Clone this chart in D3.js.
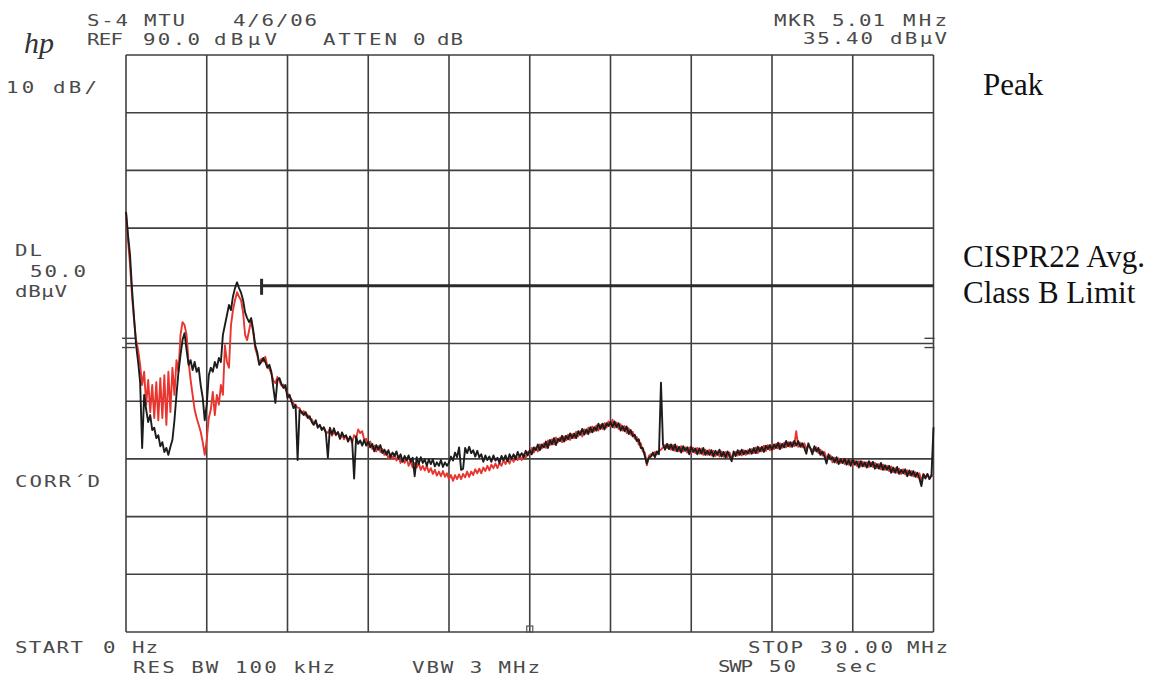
<!DOCTYPE html>
<html>
<head>
<meta charset="utf-8">
<script src="https://cdn.jsdelivr.net/npm/d3@7"></script>
<style>
  html, body { margin: 0; padding: 0; background: #fff; }
  svg { display: block; }
  .plotter { font-family: "DejaVu Sans Mono", monospace; font-size: 16px; fill: #4a4a4a; }
  .note { font-family: "Liberation Serif", "Times New Roman", serif; font-size: 31px; fill: #111; }
  .logo { font-family: "Liberation Serif", serif; font-style: italic; font-size: 30px; fill: #333; }
</style>
</head>
<body>
<svg id="chart" width="1173" height="687"></svg>
<script>
// Analyzer settings
const startMHz = 0;
const stopMHz = 30;
const refLevelDb = 90;
const dbPerDiv = 10;
const verticalDivs = 10;
const horizontalDivs = 10;

// Conducted emission sweeps, 401 points each, dBµV
const sweepBlack = [
  62.8,58.8,55.3,49.3,44.4,39.7,36.8,33.3,21.9,31.1,
  28.5,26.4,27.6,25.0,25.4,23.6,24.1,22.2,22.9,21.2,
  21.9,20.7,22.1,23.3,26.7,31.1,35.1,38.0,40.6,41.8,
  38.9,36.3,37.1,35.4,36.8,35.1,35.8,32.8,30.6,26.7,
  29.4,34.5,35.8,35.1,36.8,35.8,37.5,36.8,41.5,43.2,
  44.9,46.7,45.8,48.2,49.6,50.6,49.6,48.8,47.5,45.4,
  44.4,43.7,44.4,42.3,39.7,38.5,36.3,36.8,37.5,36.8,
  35.8,36.3,35.1,32.3,29.7,33.7,34.0,33.0,32.3,32.8,
  30.6,31.1,29.9,28.8,29.4,19.8,28.5,28.1,27.6,28.1,
  27.1,27.4,26.4,25.9,26.7,25.4,25.9,25.0,25.5,24.5,
  20.2,25.4,24.3,25.3,24.2,24.6,23.5,24.6,23.8,24.1,
  23.0,23.9,23.2,16.6,23.9,22.6,23.2,22.3,23.3,22.3,
  23.0,22.0,22.6,21.3,22.4,21.6,22.4,21.0,21.6,20.7,
  21.5,20.3,21.1,20.5,21.3,20.0,20.8,19.5,20.5,19.8,
  20.6,19.5,20.2,17.0,20.3,19.1,20.3,19.3,19.9,18.8,
  19.9,19.1,19.9,18.7,19.4,18.8,19.8,18.6,19.4,18.8,
  19.4,20.4,19.7,21.1,20.3,22.0,18.1,18.3,21.9,21.0,
  22.1,21.0,21.5,20.4,21.4,20.3,20.8,19.5,20.6,19.8,
  20.4,19.5,20.6,19.7,20.2,19.3,20.5,19.8,20.6,19.6,
  20.8,20.0,20.8,19.9,21.2,20.4,21.0,20.3,21.4,20.6,
  21.5,20.8,22.0,21.5,22.5,21.5,22.5,22.0,23.0,21.9,
  23.3,22.5,23.6,22.4,23.5,23.1,24.0,23.0,24.0,23.4,
  24.4,23.6,24.4,23.6,24.8,24.2,25.2,24.2,25.1,24.3,
  25.5,24.6,25.5,24.9,26.1,25.2,26.1,25.1,26.2,25.7,
  26.4,25.5,26.5,25.5,26.2,24.9,25.7,24.8,25.6,24.3,
  25.0,23.9,24.2,23.1,23.4,21.9,21.9,20.5,19.2,20.2,
  20.4,21.1,20.3,21.3,20.8,33.2,22.5,21.6,22.6,21.7,
  22.5,21.5,22.5,21.3,22.1,21.1,22.2,21.4,22.0,20.8,
  22.1,21.2,21.8,20.8,21.8,20.9,21.9,20.7,21.4,20.7,
  21.5,20.4,21.4,20.7,21.6,20.4,21.2,20.2,21.3,20.5,
  19.6,21.3,20.5,21.5,20.7,21.6,20.8,21.4,20.9,21.7,
  20.9,21.9,21.0,22.1,21.3,22.1,21.2,22.3,21.7,22.4,
  21.6,22.5,21.9,22.8,21.7,22.6,22.0,23.1,22.2,22.9,
  22.1,23.1,22.3,23.1,22.1,22.7,21.9,20.9,22.7,21.8,
  20.8,22.2,21.3,21.9,20.7,21.3,20.4,19.2,20.8,19.9,
  20.3,19.4,20.3,19.1,19.9,19.3,20.0,19.0,19.8,18.8,
  19.9,19.0,19.6,18.5,19.6,18.7,19.4,18.5,19.6,18.7,
  19.5,18.3,19.1,18.3,19.3,18.1,18.9,18.1,18.8,17.6,
  18.5,17.6,18.6,17.4,18.1,17.5,18.2,17.0,18.0,17.1,
  17.9,16.9,17.6,16.6,15.3,17.3,16.6,17.4,16.5,17.1,
  25.5
];

const sweepRed = [
  62.8,57.9,53.6,48.1,44.1,40.6,38.9,36.3,32.8,35.1,
  29.4,33.7,28.1,32.8,27.1,33.3,26.7,34.0,27.1,34.5,
  25.9,35.1,28.1,35.8,31.1,37.1,35.1,41.5,43.7,43.2,
  41.5,36.8,33.7,31.1,28.5,27.1,25.9,24.7,22.9,20.7,
  23.3,27.1,28.5,31.6,27.6,31.1,29.4,32.8,31.1,39.7,
  36.8,35.8,43.2,45.8,47.5,48.9,48.1,47.5,45.4,41.5,
  40.6,42.3,44.1,42.0,39.2,38.0,36.6,37.3,36.9,37.7,
  36.1,35.6,34.8,33.6,33.1,34.2,33.5,32.7,32.9,32.1,
  31.4,30.7,30.3,29.6,29.2,28.9,28.8,27.9,28.3,27.5,
  27.6,26.9,26.9,26.2,26.3,25.6,25.8,25.2,25.3,24.7,
  24.5,25.2,24.0,24.7,24.1,24.7,23.5,24.2,23.4,24.0,
  23.1,23.7,22.8,24.1,23.6,25.1,24.5,24.8,23.3,23.5,
  22.2,23.0,21.7,22.3,21.3,22.2,21.2,21.7,20.7,21.3,
  20.0,20.8,20.0,20.8,19.7,20.5,19.3,20.1,19.3,20.1,
  18.8,19.6,18.5,19.3,18.5,19.3,18.1,18.8,18.0,18.8,
  17.7,18.4,17.4,18.1,17.1,17.8,17.0,17.9,16.9,17.5,
  16.5,17.2,16.2,17.2,16.5,17.3,16.5,17.4,16.8,17.8,
  16.9,17.8,17.2,18.2,17.5,18.3,17.5,18.5,17.9,18.8,
  18.0,19.0,18.4,19.2,18.4,19.3,18.8,19.8,19.1,20.0,
  19.2,20.2,19.5,20.5,19.8,20.6,19.8,20.8,20.2,21.2,
  20.8,21.9,21.1,22.0,21.3,22.5,21.8,22.7,21.9,23.2,
  22.4,23.4,22.5,23.7,22.9,23.7,22.9,23.9,23.2,24.2,
  23.3,24.3,23.6,24.7,23.9,24.8,23.9,25.1,24.4,25.4,
  24.6,25.6,24.8,25.8,24.9,25.9,25.2,26.2,25.4,26.5,
  25.6,26.8,25.4,26.3,25.2,26.0,24.9,25.7,24.5,25.3,
  24.2,24.7,23.5,23.8,22.5,22.7,21.3,21.1,18.9,20.5,
  20.8,20.6,21.2,20.8,21.4,21.6,22.0,22.4,21.9,22.5,
  21.6,22.4,21.4,22.2,21.3,22.2,21.3,22.0,21.1,22.0,
  21.0,21.9,21.0,21.9,20.9,21.8,20.7,21.6,20.7,21.6,
  20.6,21.4,20.5,21.3,20.4,21.3,20.4,21.2,20.3,21.1,
  20.1,20.6,21.2,20.6,21.4,20.6,21.5,20.7,21.5,20.9,
  21.7,21.0,22.0,21.0,22.0,21.3,22.3,21.4,22.4,21.5,
  22.5,21.7,22.6,21.8,22.7,21.9,22.8,22.0,22.9,22.1,
  22.9,22.2,24.8,22.1,22.8,22.0,22.7,21.8,22.3,21.9,
  21.6,21.4,22.0,21.0,21.6,20.6,21.2,20.1,20.4,20.6,
  19.4,20.2,19.3,20.1,19.3,19.9,19.1,19.9,19.0,19.8,
  18.9,19.7,18.8,19.6,18.7,19.5,18.7,19.4,18.6,19.4,
  18.6,19.3,18.4,19.1,18.2,19.0,18.1,18.8,17.9,18.7,
  17.7,18.4,17.6,18.3,17.4,18.2,17.3,18.0,17.2,17.9,
  17.0,17.7,16.8,17.5,16.2,17.4,16.9,17.3,16.6,17.2,
  17.0
];

// CISPR 22 average limit, class B (5 – 30 MHz segment)
const limitMHz = [5.0, 30.0];
const limitDb = [50.0, 50.0];

// Small reference ticks on the graticule edges (dBµV)
const edgeTicksDb = [40.9, 39.3];
const centerMarkMHz = 15;

const svg = d3.select("#chart");
svg.append("rect").attr("width", 1173).attr("height", 687).attr("fill", "#fff");

const plotLeft = 126, plotRight = 933.5, plotTop = 55, plotBottom = 632;
const bottomDb = refLevelDb - dbPerDiv * verticalDivs;

const x = d3.scaleLinear().domain([startMHz, stopMHz]).range([plotLeft, plotRight]);
const y = d3.scaleLinear().domain([bottomDb, refLevelDb]).range([plotBottom, plotTop]);

// Graticule
const grid = svg.append("g").attr("stroke", "#3f3f3f").attr("stroke-width", 1.6).attr("fill", "none");
const xTicks = d3.range(horizontalDivs + 1).map(i => startMHz + i * (stopMHz - startMHz) / horizontalDivs);
const yTicks = d3.range(verticalDivs + 1).map(i => bottomDb + i * dbPerDiv);
grid.selectAll("line.v").data(xTicks).join("line").attr("class", "v")
  .attr("x1", d => x(d)).attr("x2", d => x(d)).attr("y1", plotTop).attr("y2", plotBottom);
grid.selectAll("line.h").data(yTicks).join("line").attr("class", "h")
  .attr("x1", plotLeft).attr("x2", plotRight).attr("y1", d => y(d)).attr("y2", d => y(d));

// Edge ticks and centre marker
const edgeMarks = svg.append("g").attr("stroke", "#444").attr("stroke-width", 1.4);
edgeMarks.selectAll("line.l").data(edgeTicksDb).join("line").attr("class", "l")
  .attr("x1", plotLeft - 4).attr("x2", plotLeft + 9).attr("y1", d => y(d)).attr("y2", d => y(d));
edgeMarks.selectAll("line.r").data(edgeTicksDb).join("line").attr("class", "r")
  .attr("x1", plotRight - 9).attr("x2", plotRight + 1).attr("y1", d => y(d)).attr("y2", d => y(d));
svg.append("rect").attr("x", x(centerMarkMHz) - 3).attr("y", plotBottom - 6)
  .attr("width", 6).attr("height", 6).attr("fill", "none").attr("stroke", "#555").attr("stroke-width", 1.2);

// Sweeps
const freqOf = (n, i) => startMHz + i * (stopMHz - startMHz) / (n - 1);
const line = d3.line()
  .x(d => x(d[0]))
  .y(d => y(d[1]));
const toPoints = arr => arr.map((v, i) => [freqOf(arr.length, i), v]);

svg.append("path").datum(toPoints(sweepRed))
  .attr("d", line).attr("fill", "none").attr("stroke", "#e8352f")
  .attr("stroke-width", 1.9).attr("stroke-linejoin", "round");
svg.append("path").datum(toPoints(sweepBlack))
  .attr("d", line).attr("fill", "none").attr("stroke", "#1c1c1c")
  .attr("stroke-width", 1.9).attr("stroke-linejoin", "round");

// Display line / limit
const limitPts = limitMHz.map((f, i) => [f, limitDb[i]]);
svg.append("path").datum(limitPts).attr("d", line)
  .attr("stroke", "#2a2a2a").attr("stroke-width", 3).attr("fill", "none");
svg.append("line")
  .attr("x1", x(limitMHz[0]) + 1).attr("x2", x(limitMHz[0]) + 1)
  .attr("y1", y(limitDb[0]) - 7).attr("y2", y(limitDb[0]) + 9)
  .attr("stroke", "#2a2a2a").attr("stroke-width", 3);

// Annotation text as printed by the plotter: [text, x, baseline, width]
const plotterLabels = [
  ["S-4 MTU", 87, 26, 98],
  ["4/6/06", 233, 26, 84],
  ["REF", 87, 45, 36],
  ["90.0", 143, 45, 57],
  ["dB\u00b5V", 214, 45, 63],
  ["ATTEN", 323, 45, 74],
  ["0", 413, 45, 12],
  ["dB", 437, 45, 26],
  ["MKR", 774, 26, 41],
  ["5.01", 832, 26, 53],
  ["MHz", 903, 26, 44],
  ["35.40", 803, 44, 70],
  ["dB\u00b5V", 890, 44, 57],
  ["10 dB/", 6, 93, 91],
  ["DL", 15, 256, 27],
  ["50.0", 30, 277, 56],
  ["dB\u00b5V", 15, 297, 52],
  ["CORR\u00b4D", 15, 487, 85],
  ["START", 15, 653, 68],
  ["0", 103, 653, 10],
  ["Hz", 132, 653, 26],
  ["RES BW 100 kHz", 133, 673, 202],
  ["VBW 3 MHz", 412, 673, 128],
  ["STOP", 748, 653, 55],
  ["30.00", 820, 653, 73],
  ["MHz", 907, 653, 41],
  ["SWP", 718, 672, 35],
  ["50", 769, 672, 27],
  ["sec", 835, 672, 42]
];
// Plotter characters are wide; stretch the glyphs uniformly, then fit each word by spacing
const glyphStretch = 1.3;
svg.append("g").selectAll("text").data(plotterLabels).join("text")
  .attr("class", "plotter")
  .attr("transform", d => `translate(${d[1]},${d[2]}) scale(${glyphStretch},1)`)
  .attr("x", 0).attr("y", 0)
  .each(function (d) {
    if (d[0].length > 1) {
      d3.select(this).attr("textLength", d[3] / glyphStretch).attr("lengthAdjust", "spacing");
    }
  })
  .text(d => d[0]);

svg.append("text").attr("class", "logo").attr("x", 24).attr("y", 53).text("hp");

// Hand annotations
svg.append("text").attr("class", "note").attr("x", 983).attr("y", 95).text("Peak");
svg.append("text").attr("class", "note").attr("x", 963).attr("y", 267).text("CISPR22 Avg.");
svg.append("text").attr("class", "note").attr("x", 963).attr("y", 303).text("Class B Limit");
</script>
</body>
</html>
